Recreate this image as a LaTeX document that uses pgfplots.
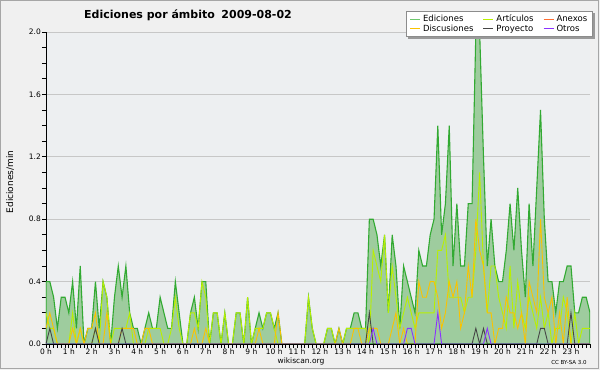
\documentclass[border=0pt]{standalone}
\usepackage{fontspec}
\setmainfont{DejaVu Sans}
\usepackage{pgfplots}
\pgfplotsset{compat=1.18}
\usepackage{pgfplotstable}
\pgfdeclarelayer{background}
\pgfsetlayers{background,main}

\definecolor{bgc}{RGB}{240,240,240}
\definecolor{plotbg}{RGB}{237,239,241}
\definecolor{edline}{RGB}{50,170,50}
\definecolor{edleg}{RGB}{110,200,110}
\definecolor{edfill}{RGB}{158,204,158}
\definecolor{artc}{RGB}{185,240,0}
\definecolor{anxc}{RGB}{255,110,50}
\definecolor{disc}{RGB}{250,195,0}
\definecolor{proyc}{RGB}{70,70,70}
\definecolor{otrc}{RGB}{140,50,255}

\pgfplotstableread{
i ed art anx dis pro otr
0 0.4 0.2 0 0.1 0 0
1 0.4 0.1 0 0.2 0.1 0
2 0.3 0.1 0 0.1 0 0
3 0.1 0 0 0 0 0
4 0.3 0 0 0 0 0
5 0.3 0 0 0 0 0
6 0.2 0 0 0 0 0
7 0.4 0.2 0 0.1 0 0
8 0.1 0 0 0 0 0
9 0.5 0.1 0 0.1 0 0
10 0 0 0 0 0 0
11 0.1 0 0 0.1 0 0
12 0.1 0 0 0.1 0 0
13 0.4 0.1 0 0.2 0.1 0
14 0.1 0 0 0 0 0
15 0.4 0.4 0 0 0 0
16 0.3 0.3 0 0.2 0 0
17 0 0 0 0 0 0
18 0.3 0.1 0 0 0 0
19 0.5 0.1 0 0 0 0
20 0.3 0.1 0 0.1 0.1 0
21 0.5 0.1 0 0.1 0 0
22 0.2 0.2 0 0.1 0 0
23 0.1 0 0 0.1 0 0
24 0.1 0 0 0 0 0
25 0 0 0 0 0 0
26 0.1 0 0 0.1 0 0
27 0.2 0.1 0 0.1 0 0
28 0.1 0.1 0 0 0 0
29 0.1 0.1 0 0 0 0
30 0.3 0.1 0 0 0 0
31 0.2 0 0 0 0 0
32 0.1 0 0 0 0 0
33 0.1 0.1 0 0 0 0
34 0.4 0.3 0 0 0 0
35 0.2 0.1 0 0 0 0
36 0 0 0 0 0 0
37 0 0 0 0 0 0
38 0.2 0.2 0 0 0 0
39 0.3 0.2 0 0.1 0 0
40 0.1 0.1 0 0 0 0
41 0.4 0.4 0 0 0 0
42 0.4 0.3 0 0.1 0 0
43 0 0 0 0 0 0
44 0.2 0.2 0 0 0 0
45 0.2 0.2 0 0 0 0
46 0 0 0 0 0 0
47 0.2 0.2 0 0 0 0
48 0 0 0 0 0 0
49 0 0 0 0 0 0
50 0.2 0.2 0 0 0 0
51 0.2 0.2 0 0 0 0
52 0 0 0 0 0 0
53 0.3 0.3 0 0 0 0
54 0 0 0 0 0 0
55 0.1 0.1 0 0 0 0
56 0.2 0.1 0 0.1 0 0
57 0.1 0.1 0 0 0 0
58 0.2 0.2 0 0 0 0
59 0.2 0.2 0 0 0 0
60 0.1 0.1 0 0 0 0
61 0.2 0 0 0.2 0 0
62 0 0 0 0 0 0
63 0 0 0 0 0 0
64 0 0 0 0 0 0
65 0 0 0 0 0 0
66 0 0 0 0 0 0
67 0 0 0 0 0 0
68 0 0 0 0 0 0
69 0.3 0.3 0 0 0 0
70 0.1 0.1 0 0 0 0
71 0 0 0 0 0 0
72 0 0 0 0 0 0
73 0 0 0 0 0 0
74 0.1 0.1 0 0 0 0
75 0.1 0.1 0 0 0 0
76 0 0 0 0 0 0
77 0.1 0 0 0.1 0 0
78 0 0 0 0 0 0
79 0.1 0.1 0 0 0 0
80 0.1 0.1 0 0 0 0
81 0.2 0.1 0 0.1 0 0
82 0.2 0.1 0 0.1 0 0
83 0.1 0.1 0 0 0 0
84 0.1 0.1 0 0 0 0
85 0.8 0 0 0.1 0.2 0
86 0.8 0.6 0 0.1 0 0.1
87 0.7 0.5 0 0.1 0 0
88 0.5 0.4 0 0 0 0
89 0.7 0.7 0 0 0 0
90 0.2 0.2 0 0 0 0
91 0.7 0.5 0 0.1 0 0
92 0.5 0.3 0 0.2 0 0
93 0.1 0.1 0 0 0 0
94 0.5 0.2 0 0.1 0 0
95 0.4 0.3 0 0 0 0.1
96 0.3 0.2 0 0 0 0.1
97 0.2 0.1 0 0 0 0
98 0.6 0.2 0 0.4 0 0
99 0.5 0.2 0 0.3 0 0
100 0.5 0.2 0 0.3 0 0
101 0.7 0.2 0 0.4 0 0
102 0.8 0.2 0 0.4 0 0
103 1.4 0.6 0 0.3 0 0.2
104 0.7 0.6 0 0.1 0 0
105 0.9 0.7 0 0.2 0 0
106 1.4 0.3 0 0.4 0 0
107 0.5 0.3 0 0.3 0 0
108 0.9 0.3 0 0.4 0 0
109 0.5 0.3 0 0.1 0 0
110 0.5 0.2 0 0.2 0 0
111 0.9 0.3 0 0.5 0 0
112 0.9 0.3 0 0.3 0 0
113 2.0 0.6 0 0.8 0.1 0
114 2.0 1.1 0 0.6 0 0
115 1.2 0.5 0 0.5 0.1 0
116 0.5 0.2 0 0.2 0 0.1
117 0.8 0.5 0 0.2 0 0
118 0.5 0.5 0 0 0 0
119 0.4 0.3 0 0.1 0 0
120 0.4 0.2 0 0.1 0 0
121 0.6 0.1 0 0.3 0 0
122 0.9 0.5 0 0.2 0 0
123 0.6 0.1 0 0.2 0 0
124 1.0 0.4 0 0.1 0 0
125 0.6 0.2 0 0.2 0 0
126 0.3 0.1 0 0 0 0
127 0.9 0.3 0 0.4 0 0
128 0.5 0.2 0 0.3 0 0
129 1.0 0.1 0 0.2 0 0
130 1.5 0.3 0 0.8 0.1 0
131 0.8 0.1 0 0.3 0.1 0
132 0.4 0.2 0 0.2 0 0
133 0.4 0 0 0.3 0 0
134 0.2 0.1 0 0 0 0
135 0.4 0.1 0 0.2 0 0
136 0.4 0.3 0 0 0 0
137 0.5 0.2 0 0.3 0 0
138 0.5 0 0 0 0.2 0
139 0.2 0.2 0 0 0 0
140 0.2 0 0 0 0 0
141 0.3 0.1 0 0 0 0
142 0.3 0.1 0 0 0 0
143 0.2 0.1 0 0 0 0
}\data

\begin{document}
\begin{tikzpicture}
\begin{axis}[
  name=ax,
  scale only axis, width=544pt, height=312pt,
  xmin=0, xmax=23.8333, ymin=0, ymax=2,
  axis background/.style={fill=plotbg},
  axis x line*=bottom, axis y line*=left,
  axis line style={black, line width=0.8pt, -},
  tick align=outside,
  major tick length=4pt, minor tick length=4pt,
  every tick/.style={black, line width=0.7pt},
  xtick={0,1,...,23},
  xticklabels={0 h,1 h,2 h,3 h,4 h,5 h,6 h,7 h,8 h,9 h,10 h,11 h,12 h,13 h,14 h,15 h,16 h,17 h,18 h,19 h,20 h,21 h,22 h,23 h},
  minor xtick={0,0.16666667,...,23.84},
  ytick={0,0.4,0.8,1.2,1.6,2.0},
  minor y tick num=3,
  yticklabel style={/pgf/number format/.cd, fixed, fixed zerofill, precision=1},
  /pgf/number format/assume math mode=true,
  tick label style={font=\fontsize{7.5}{7.5}\selectfont, inner sep=1pt},
  ymajorgrids,
  major grid style={black!22, line width=0.8pt},
  no markers,
  legend columns=3,
  legend cell align=left,
  legend style={name=leg, at={(1.0055,1.067)}, anchor=north east,
    draw=black!45, fill=white, line width=0.6pt,
    font=\fontsize{8.5}{8.5}\selectfont,
    inner xsep=3pt, inner ysep=2.8pt,
    nodes={inner ysep=0.8pt, inner xsep=2.5pt},
    /tikz/every even column/.append style={column sep=7pt}},
  legend image code/.code={\draw[#1, line width=1pt] (0pt,0pt) -- (10pt,0pt);},
]
\addplot[draw=edline, fill=edfill, line width=1.1pt,
  legend image code/.code={\draw[edleg, line width=1pt] (0pt,0pt) -- (10pt,0pt);}]
  table[x expr=\thisrow{i}/6, y=ed] {\data} \closedcycle;
\addlegendentry{Ediciones}
\addplot[artc, line width=0.9pt] table[x expr=\thisrow{i}/6, y=art] {\data};
\addlegendentry{Artículos}
\addplot[anxc, line width=0.9pt] table[x expr=\thisrow{i}/6, y=anx] {\data};
\addlegendentry{Anexos}
\addplot[disc, line width=0.9pt] table[x expr=\thisrow{i}/6, y=dis] {\data};
\addlegendentry{Discusiones}
\addplot[proyc, line width=0.9pt] table[x expr=\thisrow{i}/6, y=pro] {\data};
\addlegendentry{Proyecto}
\addplot[otrc, line width=0.9pt] table[x expr=\thisrow{i}/6, y=otr] {\data};
\addlegendentry{Otros}
\draw[black, line width=0.8pt] (rel axis cs:0,0) -- (rel axis cs:1,0);
\end{axis}
\fill[black!40] ([xshift=2pt,yshift=-2.2pt]leg.south west) rectangle ([xshift=2.2pt]leg.south east);
\fill[black!40] ([yshift=-2pt]leg.north east) rectangle ([xshift=2.2pt,yshift=-2.2pt]leg.south east);
\begin{scope}[shift={(ax.south west)}]
\begin{pgfonlayer}{background}
\fill[bgc] (-46pt,-26pt) rectangle (554pt,344pt);
\draw[black!35, line width=1.2pt] (-45.4pt,-24.4pt) rectangle (552.8pt,343.4pt);
\end{pgfonlayer}
\node[font=\bfseries\fontsize{11}{11}\selectfont] at (142pt,329pt) {Ediciones por ámbito\hspace{0.6em}2009-08-02};
\node[rotate=90, font=\fontsize{9}{9}\selectfont] at (-36pt,162pt) {Ediciones/min};
\node[font=\fontsize{7.5}{7.5}\selectfont] at (255pt,-17pt) {wikiscan.org};
\node[font=\fontsize{5.5}{5.5}\selectfont] at (523pt,-18pt) {CC BY-SA 3.0};
\pgfresetboundingbox
\path[use as bounding box] (-46pt,-26pt) rectangle (554pt,344pt);
\end{scope}
\end{tikzpicture}
\end{document}
